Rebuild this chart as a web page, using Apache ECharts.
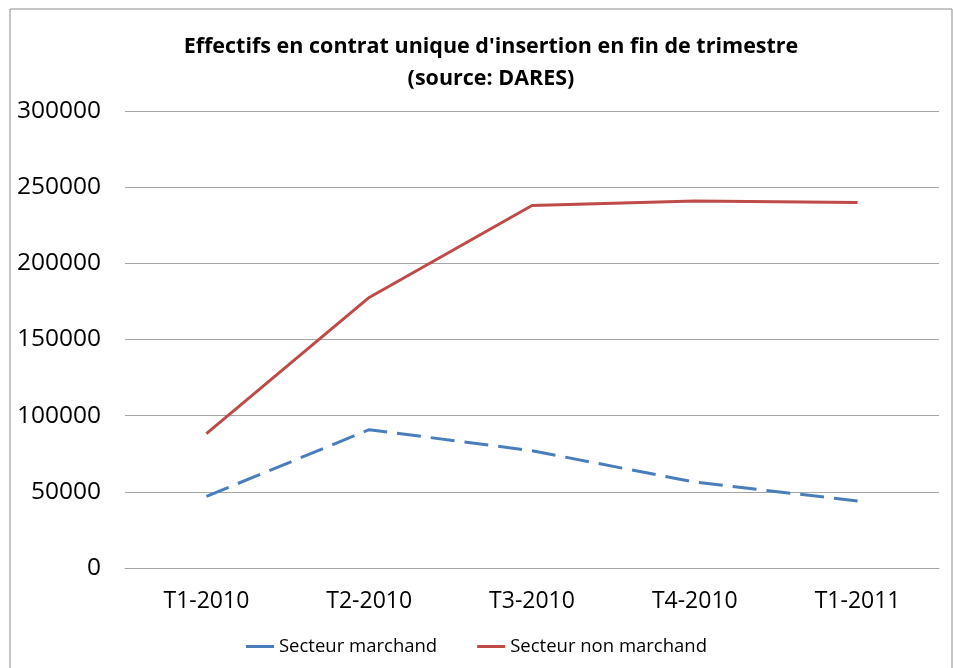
<!DOCTYPE html>
<html>
<head>
<meta charset="utf-8">
<script src="https://cdn.jsdelivr.net/npm/echarts@6/dist/echarts.min.js"></script>
<style>
    html, body { margin: 0; padding: 0; background: #fff; }
    #chart { width: 953px; height: 668px; }
</style>
</head>
<body>
<div id="chart"></div>
<script>
// donnees
var categories = ['T1-2010', 'T2-2010', 'T3-2010', 'T4-2010', 'T1-2011'];
var marchand = [47000, 90800, 77000, 56400, 44000];
var nonMarchand = [88200, 177600, 238000, 241000, 240000];
var seriesNames = ['Secteur marchand', 'Secteur non marchand'];

var font = '"Open Sans", sans-serif';

var chart = echarts.init(document.getElementById('chart'));
chart.setOption({
    animation: false,
    backgroundColor: '#fff',
    textStyle: { fontFamily: font },
    graphic: [{
        type: 'rect',
        shape: { x: 10, y: 9, width: 942, height: 665 },
        style: { fill: 'none', stroke: '#8c8c8c', lineWidth: 1 }
    }],
    title: {
        text: "Effectifs en contrat unique d'insertion en fin de trimestre\n(source: DARES)",
        left: 486,
        textAlign: 'center',
        top: 26,
        textStyle: {
            fontFamily: font,
            fontSize: 21.5,
            fontWeight: 'bold',
            color: '#000',
            lineHeight: 32
        }
    },
    legend: {
        bottom: 7,
        left: 'center',
        itemWidth: 28,
        itemHeight: 3,
        itemGap: 40,
        textStyle: { fontFamily: font, fontSize: 18.5, color: '#000' },
        data: [
            { name: seriesNames[0], icon: 'path://M0,0H28V3H0Z' },
            { name: seriesNames[1], icon: 'path://M0,0H28V3H0Z' }
        ]
    },
    grid: { left: 125, right: 14, top: 111, bottom: 100 },
    xAxis: {
        type: 'category',
        data: categories,
        boundaryGap: true,
        axisLine: { show: true, lineStyle: { color: '#a6a6a6', width: 1 } },
        axisTick: { show: false },
        axisLabel: { fontSize: 23, color: '#000', margin: 22, fontFamily: font }
    },
    yAxis: {
        type: 'value',
        min: 0,
        max: 300000,
        interval: 50000,
        axisLine: { show: false },
        axisTick: { show: false },
        splitLine: { lineStyle: { color: '#a6a6a6', width: 1 } },
        axisLabel: {
            fontSize: 24.5, color: '#000', margin: 24, fontFamily: font,
            formatter: function (v) { return String(v); }
        }
    },
    series: [{
        name: seriesNames[0],
        type: 'line',
        data: marchand,
        symbol: 'none',
        color: '#4a7ebb',
        lineStyle: { width: 3, type: [24, 10], color: '#4a7ebb' }
    }, {
        name: seriesNames[1],
        type: 'line',
        data: nonMarchand,
        symbol: 'none',
        color: '#be4b48',
        lineStyle: { width: 3, color: '#be4b48' }
    }]
});
</script>
</body>
</html>
